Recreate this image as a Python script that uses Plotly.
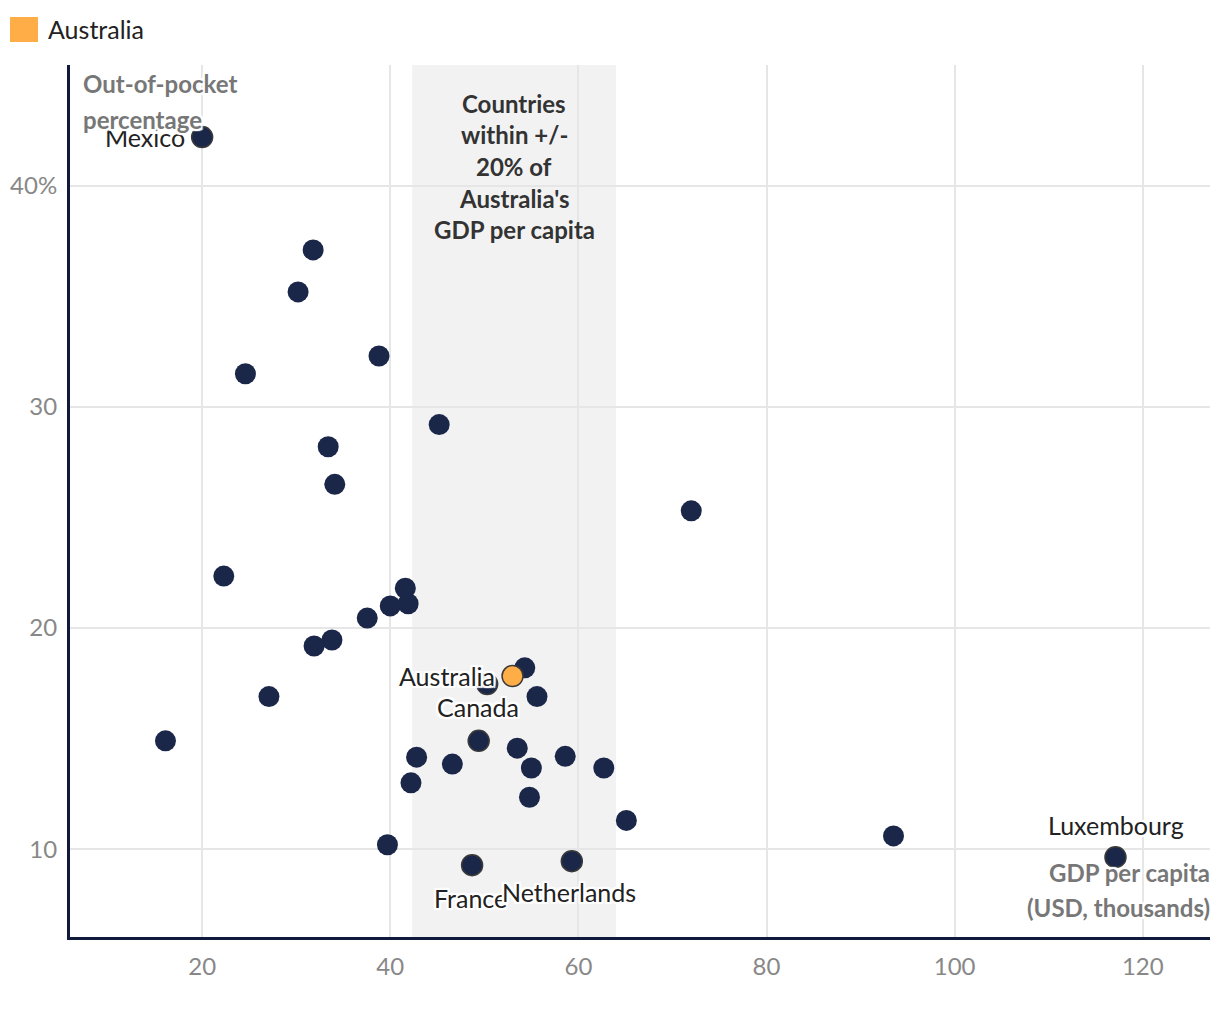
import plotly.graph_objects as go

# ---- data (GDP per capita, USD thousands ; out-of-pocket %) ----
names = ["Mexico", "", "", "", "", "", "", "", "", "",
         "", "", "", "", "", "", "", "", "Canada", "",
         "", "", "", "", "", "", "", "", "", "",
         "", "", "France", "Netherlands", "", "Luxembourg"]
gdp = [20.0, 31.8, 30.2, 38.8, 24.6, 45.2, 33.4, 34.1, 72.0, 22.3,
       41.6, 40.0, 41.9, 37.55, 33.8, 31.9, 27.1, 16.1, 50.3, 54.3,
       55.6, 49.4, 53.5, 42.8, 46.6, 55.0, 58.6, 62.7, 42.2, 54.8,
       65.1, 39.7, 48.7, 59.3, 93.5, 117.1]
oop = [42.2, 37.1, 35.2, 32.3, 31.5, 29.2, 28.2, 26.5, 25.3, 22.35,
       21.8, 21.0, 21.1, 20.45, 19.46, 19.19, 16.9, 14.9, 17.47, 18.2,
       16.9, 14.9, 14.57, 14.16, 13.85, 13.67, 14.2, 13.67, 13.0, 12.35,
       11.3, 10.2, 9.28, 9.46, 10.6, 9.64]
outlined = [True, False, False, False, False, False, False, False, False, False,
            False, False, False, False, False, False, False, False, True, False,
            False, True, False, False, False, False, False, False, False, False,
            False, False, True, True, False, True]

aus_name = "Australia"
aus_gdp = 53.0
aus_oop = 17.83
# band of countries within +/-20% of Australia's GDP per capita (edges)
band_lo = 42.34
band_hi = 64.0

x_ticks = [20, 40, 60, 80, 100, 120]
y_ticks = [10, 20, 30, 40]
y_ticktext = ["10", "20", "30", "40%"]

band_lines = ["Countries", "within +/-", "20% of", "Australia's", "GDP per capita"]
ytitle_lines = ["Out-of-pocket", "percentage"]
xtitle_lines = ["GDP per capita", "(USD, thousands)"]

# label offsets (pixels) : name -> (xanchor, xshift, yshift)
label_pos = {
    "Mexico": ("right", -15, 0),
    "Canada": ("center", -9, -23),
    "France": ("center", -2, -33),
    "Netherlands": ("center", -3, -31),
    "Luxembourg": ("center", 1, 32),
    "Australia": ("right", -16, 0),
}

NAVY = "#1b2749"
ORANGE = "#ffad47"
FONT = "Lato"
HALO = ("white 2px 2px 1px, white -2px -2px 1px, white 2px -2px 1px, white -2px 2px 1px, "
        "white 0px 2px 1px, white 0px -2px 1px, white 2px 0px 1px, white -2px 0px 1px")

# page offset (browser body margin) -> figure is drawn 8px in from the window corner
OFF = 8
W, H_FIG = 1220 - OFF, 1012 - OFF
PLOT_L, PLOT_R, PLOT_TOP, PLOT_BOT = 70, 1210, 65, 937  # window pixels

fig = go.Figure()

fig.add_trace(go.Scatter(
    x=gdp, y=oop, mode="markers", text=names, hoverinfo="text+x+y",
    marker=dict(size=21, color=NAVY,
                line=dict(color=["#3a3a3a" if o else NAVY for o in outlined],
                          width=[1.5 if o else 0 for o in outlined])),
    showlegend=False,
))
fig.add_trace(go.Scatter(
    x=[aus_gdp], y=[aus_oop], mode="markers", name=aus_name,
    marker=dict(size=21, color=ORANGE, line=dict(color="#3a3a3a", width=1.5)),
    showlegend=False,
))

# band +/- 20% of Australia
fig.add_shape(type="rect", xref="x", yref="paper",
              x0=band_lo, x1=band_hi, y0=0, y1=1,
              fillcolor="#f2f2f2", line=dict(width=0), layer="below")

PW = PLOT_R - PLOT_L
PH = PLOT_BOT - PLOT_TOP
def py2paper(py):
    return (PLOT_BOT - py) / PH
def px2paper(px):
    return (px - PLOT_L) / PW

anns = []
# point labels
for n, xv, yv in list(zip(names, gdp, oop)) + [(aus_name, aus_gdp, aus_oop)]:
    if n in label_pos:
        xa, xs, ys = label_pos[n]
        anns.append(dict(x=xv, y=yv, xref="x", yref="y", text=n, showarrow=False,
                         xanchor=xa, yanchor="middle", xshift=xs, yshift=ys,
                         font=dict(family=FONT, size=25, color="#222222", shadow=HALO)))

# band text
band_mid = (band_lo + band_hi) / 2
for i, line in enumerate(band_lines):
    anns.append(dict(x=band_mid, xref="x", y=py2paper(103 + 31.7 * i), yref="paper",
                     text="<b>%s</b>" % line, showarrow=False, xanchor="center", yanchor="middle",
                     font=dict(family=FONT, size=24, color="#333333")))
# y title
for i, line in enumerate(ytitle_lines):
    anns.append(dict(x=px2paper(81), xref="paper", y=py2paper(83 + 36 * i), yref="paper",
                     text="<b>%s</b>" % line, showarrow=False, xanchor="left", yanchor="middle",
                     font=dict(family=FONT, size=24, color="#777777", shadow=HALO)))
# x title
for i, line in enumerate(xtitle_lines):
    anns.append(dict(x=px2paper(1212), xref="paper", y=py2paper(872 + 35 * i), yref="paper",
                     text="<b>%s</b>" % line, showarrow=False, xanchor="right", yanchor="middle",
                     font=dict(family=FONT, size=24, color="#777777", shadow=HALO)))
# legend
anns.append(dict(x=px2paper(46), xref="paper", y=py2paper(29), yref="paper",
                 text=aus_name, showarrow=False, xanchor="left", yanchor="middle",
                 font=dict(family=FONT, size=25, color="#222222")))
fig.add_shape(type="rect", xref="paper", yref="paper",
              x0=px2paper(10), x1=px2paper(38), y0=py2paper(42), y1=py2paper(17),
              fillcolor=ORANGE, line=dict(width=0))

fig.update_layout(
    width=W, height=H_FIG,
    margin=dict(l=PLOT_L - OFF, r=1220 - PLOT_R, t=PLOT_TOP - OFF, b=1012 - PLOT_BOT),
    paper_bgcolor="white", plot_bgcolor="rgba(0,0,0,0)",
    font=dict(family=FONT, size=24, color="#888888"),
    annotations=anns,
    showlegend=False,
    xaxis=dict(range=[5.95, 127.15], tickvals=x_ticks, showgrid=True, gridcolor="#e6e6e6",
               gridwidth=2, zeroline=False, showline=True, linecolor="#0f1a3c", linewidth=3,
               ticks="", ticklabelstandoff=6, automargin=False,
               tickfont=dict(size=24, color="#888888")),
    yaxis=dict(range=[6.03, 45.46], tickvals=y_ticks, ticktext=y_ticktext, showgrid=True,
               gridcolor="#e6e6e6", gridwidth=2, zeroline=False, showline=True,
               linecolor="#0f1a3c", linewidth=3, ticks="", ticklabelstandoff=5, automargin=False,
               tickfont=dict(size=24, color="#888888")),
)

fig.write_html("out.html")
